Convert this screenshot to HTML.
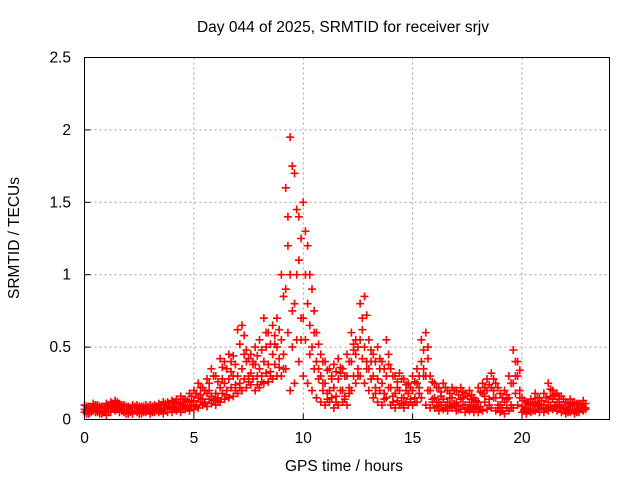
<!DOCTYPE html>
<html><head><meta charset="utf-8"><style>
body{margin:0;background:#fff}
svg{display:block;font-family:"Liberation Sans",sans-serif;font-size:15.5px}
</style></head><body>
<svg id="chart" width="640" height="480" viewBox="0 0 640 480">
<rect width="640" height="480" fill="#fff"/>
<text x="343" y="32" text-anchor="middle">Day 044 of 2025, SRMTID for receiver srjv</text>
<g id="grid"></g>
<g id="ticks"></g>
<g id="pts"></g>
<rect x="84.5" y="57.5" width="525" height="362" fill="none" stroke="#000"/>
<text x="344" y="471" text-anchor="middle">GPS time / hours</text>
<text transform="translate(19,238) rotate(-90)" text-anchor="middle">SRMTID / TECUs</text>
</svg>
<script>
const startHour = 0, stepHour = 0.2, offsetHour = 0.1;
const xTicks = [0,5,10,15,20];
const yTicks = [0,0.5,1,1.5,2,2.5];
const yTickLabels = ["0","0.5","1","1.5","2","2.5"];
const seriesLow = [.05,.04,.06,.05,.04, .03,.05,.06,.05,.05, .04,.04,.05,.04,.05, .04,.05,.05,.04,.05, .05,.06,.05,.07,.06,
 .07,.08,.10,.09,.11, .10,.12,.14,.15,.16, .18,.20,.22,.24,.20, .22,.25,.26,.28,.30, .30,.35,.20,.25,.40,
 .30,.25,.20,.15,.12, .10,.12,.08,.10,.12, .10,.20,.25,.30,.25, .20,.15,.12,.10,.15, .10,.08,.10,.08,.10,
 .10,.12,.15,.10,.08, .08,.06,.07,.06,.08, .06,.07,.05,.06,.05, .05,.06,.07,.08,.06, .05,.04,.06,.08,.10,
 .05,.04,.05,.06,.05, .05,.06,.07,.06,.05, .04,.05,.04,.05,.06];
const seriesMid = [.07,.08,.07,.09,.06, .08,.09,.10,.08,.07, .07,.06,.08,.07,.07, .07,.08,.07,.08,.09, .09,.10,.11,.10,.12,
 .13,.15,.14,.18,.16, .18,.22,.25,.28,.30, .30,.35,.40,.32,.38, .35,.40,.38,.45,.50, .55,.90,1.0,.80,1.10,
 .70,.80,.50,.40,.30, .25,.20,.22,.28,.20, .30,.40,.45,.55,.50, .35,.30,.28,.25,.30, .22,.18,.20,.15,.18,
 .20,.25,.40,.30,.20, .15,.12,.14,.12,.15, .12,.14,.10,.12,.10, .12,.18,.20,.22,.15, .10,.12,.15,.25,.30,
 .09,.08,.10,.12,.10, .10,.12,.14,.12,.10, .08,.09,.07,.08,.09];
const seriesHigh = [.10,.09,.11,.10,.09, .11,.12,.13,.11,.10, .09,.10,.10,.09,.10, .10,.10,.11,.12,.12, .13,.14,.16,.14,.18,
 .20,.25,.22,.28,.35, .30,.42,.40,.45,.44, .62,.65,.48,.45,.50, .55,.70,.60,.65,.70, 1.0,1.60,1.95,1.70,1.40,
 1.50,1.20,.90,.60,.45, .40,.35,.38,.42,.35, .45,.60,.55,.80,.85, .55,.45,.50,.40,.55, .35,.30,.32,.28,.25,
 .30,.35,.55,.60,.30, .25,.22,.25,.20,.22, .20,.22,.18,.20,.15, .22,.25,.28,.32,.25, .18,.20,.30,.48,.40,
 .15,.12,.14,.18,.15, .18,.25,.20,.18,.16, .12,.14,.12,.11,.13];
const seriesA = [.06,.05,.07,.04,.06, .07,.08,.09,.06,.06, .05,.06,.06,.05,.06, .06,.06,.06,.07,.07, .07,.08,.09,.08,.10,
 .10,.12,.12,.14,.14, .15,.18,.20,.22,.24, .25,.28,.30,.28,.30, .30,.32,.33,.38,.42, .45,.60,.50,.55,.70,
 .55,.45,.35,.28,.20, .18,.15,.16,.20,.16, .22,.30,.35,.42,.40, .28,.22,.20,.18,.22, .16,.13,.15,.12,.14,
 .15,.18,.30,.20,.14, .12,.10,.10,.09,.11, .09,.10,.08,.09,.08, .09,.12,.14,.15,.10, .08,.08,.10,.18,.20,
 .07,.06,.07,.09,.08, .08,.09,.10,.09,.08, .06,.07,.06,.07,.07];
const seriesB = [.09,.08,.10,.09,.08, .10,.11,.12,.10,.09, .08,.09,.09,.08,.09, .09,.09,.10,.11,.11, .12,.12,.14,.13,.16,
 .18,.22,.20,.25,.30, .26,.36,.35,.40,.38, .52,.58,.42,.40,.44, .48,.60,.52,.58,.62, .85,1.40,1.75,1.45,1.25,
 1.30,1.00,.75,.52,.40, .34,.30,.33,.36,.30, .40,.52,.50,.70,.72, .48,.40,.42,.35,.45, .30,.26,.28,.24,.22,
 .26,.30,.48,.50,.26, .22,.19,.22,.18,.20, .17,.19,.16,.17,.13, .19,.22,.24,.28,.22, .15,.17,.25,.40,.34,
 .13,.11,.12,.15,.13, .15,.21,.17,.16,.14, .11,.12,.11,.10,.11];
const seriesC = [.04,.07,.05,.08,.05, .05,.10,.07,.09,.04, .06,.08,.04,.09,.06, .05,.09,.06,.10,.08, .08,.11,.07,.12,.09,
 .09,.17,.11,.20,.13, .13,.28,.17,.33,.20, .22,.45,.26,.38,.24, .26,.50,.30,.52,.36, .35,1.20,.75,1.00,.55,
 1.00,.65,.60,.35,.25, .14,.28,.12,.32,.14, .18,.48,.30,.62,.35, .40,.18,.35,.14,.38, .12,.22,.11,.20,.12,
 .12,.22,.35,.42,.12, .09,.16,.08,.15,.10, .07,.15,.07,.14,.07, .07,.16,.10,.20,.08, .06,.14,.08,.30,.15,
 .06,.10,.06,.11,.07, .07,.16,.08,.14,.07, .05,.10,.05,.09,.08];

const NS="http://www.w3.org/2000/svg";
const X0=84.5,X1=609.5,Y0=419.5,Y1=57.5;
const xs=h=>X0+(h/24)*(X1-X0);
const ys=v=>Y0-(v/2.5)*(Y0-Y1);
const grid=document.getElementById('grid'),ticks=document.getElementById('ticks'),pts=document.getElementById('pts');
function mk(tag,attrs,parent){const e=document.createElementNS(NS,tag);for(const k in attrs)e.setAttribute(k,attrs[k]);parent.appendChild(e);return e;}
xTicks.forEach(h=>{
  const x=xs(h);
  if(h>0){const g=mk('line',{x1:x,x2:x,y1:Y0,y2:Y1,stroke:'#a0a0a0','stroke-dasharray':'2,3'},grid);
  
  }
  const t=mk('line',{x1:x,x2:x,y1:Y0,y2:Y0-6,stroke:'#000'},ticks);
  
  
  const l=mk('text',{x:x,y:443,'text-anchor':'middle'},ticks);l.textContent=String(h);
  
  
});
yTicks.forEach((v,i)=>{
  const y=ys(v);
  if(v>0&&v<2.5){const g=mk('line',{x1:X0,x2:X1,y1:y,y2:y,stroke:'#a0a0a0','stroke-dasharray':'2,3'},grid);
  
  }
  const t=mk('line',{x1:X0,x2:X0+6,y1:y,y2:y,stroke:'#000'},ticks);
  
  
  const l=mk('text',{x:71,y:y+5,'text-anchor':'end'},ticks);l.textContent=yTickLabels[i];
  
  
});
function drawSeries(s,off){
  s.forEach((v,i)=>{
    const x=xs(startHour+off+i*stepHour),y=ys(v);
    const p=mk('path',{d:`M${x-4},${y}h8M${x},${y-4}v8`,stroke:'#ff0000','stroke-width':1.6,fill:'none'},pts);
    
    
  });
}
[seriesLow,seriesMid,seriesHigh].forEach(s=>drawSeries(s,0));
[seriesA,seriesB,seriesC].forEach(s=>drawSeries(s,offsetHour));
</script>
</body></html>
